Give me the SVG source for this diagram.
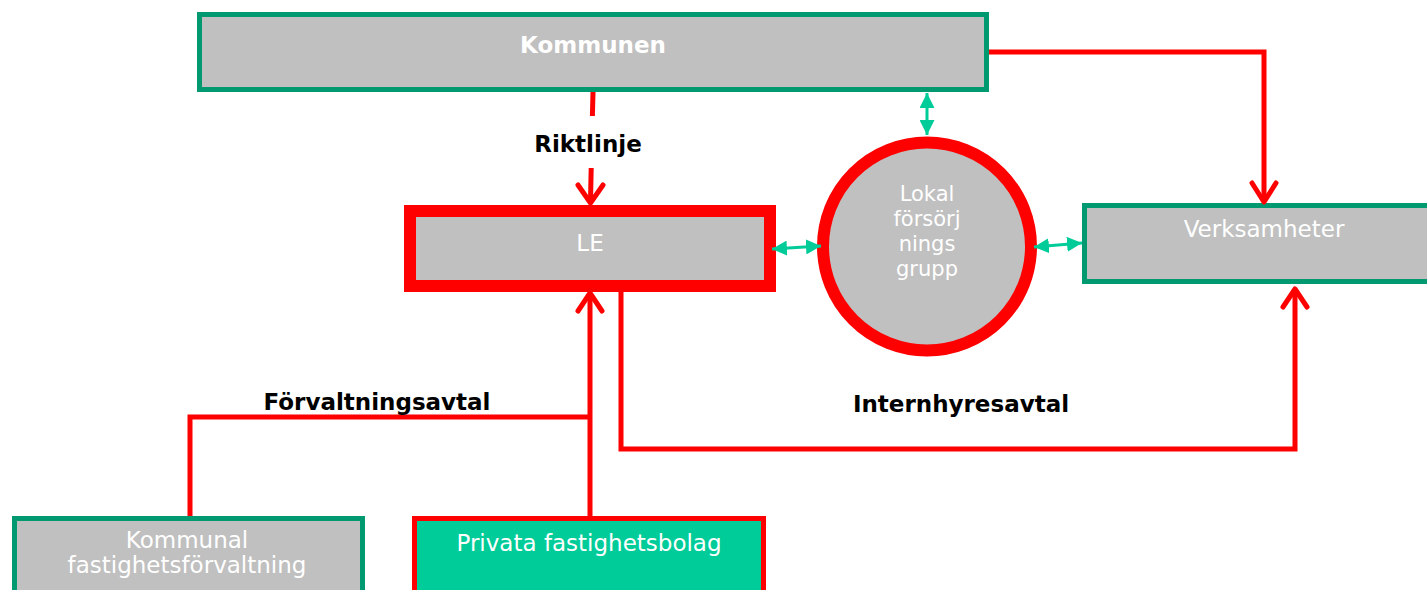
<svg xmlns="http://www.w3.org/2000/svg" width="1427" height="590" viewBox="0 0 1427 590">
<style>
.box{fill:#C0C0C0;stroke:#009970;stroke-width:5}
.wt{fill:#FFFFFF;font-family:"DejaVu Sans",Verdana,sans-serif;font-size:23px;text-anchor:middle}
.ct{fill:#FFFFFF;font-family:"DejaVu Sans",Verdana,sans-serif;font-size:21px;text-anchor:middle}
.bt{fill:#FFFFFF;font-family:"DejaVu Sans",Verdana,sans-serif;font-size:23px;font-weight:bold;text-anchor:middle}
.lbl{fill:#000000;font-family:"DejaVu Sans",Verdana,sans-serif;font-size:23px;font-weight:bold;text-anchor:middle}
.red{fill:none;stroke:#FF0000;stroke-width:5;stroke-linejoin:miter}
.head{fill:none;stroke:#FF0000;stroke-width:5;stroke-linecap:round;stroke-linejoin:round}
.grn{fill:none;stroke:#00CC99;stroke-width:3;marker-start:url(#gh);marker-end:url(#gh)}
</style>
<defs>
<marker id="gh" viewBox="0 0 10 10" refX="10" refY="5" markerWidth="15" markerHeight="15" markerUnits="userSpaceOnUse" orient="auto-start-reverse">
<path d="M0,0 L10,5 L0,10 z" fill="#00CC99"/>
</marker>
</defs>
<rect width="1427" height="590" fill="#FFFFFF"/>
<g id="kommunen">
<rect class="box" x="199.5" y="14.5" width="787" height="75"/>
<text class="bt" x="593" y="53">Kommunen</text>
</g>
<g id="le">
<rect x="410" y="211" width="360" height="75" fill="#C0C0C0" stroke="#FF0000" stroke-width="12"/>
<text class="wt" x="590" y="251">LE</text>
</g>
<g id="lokal">
<circle cx="927" cy="246.5" r="104" fill="#C0C0C0" stroke="#FF0000" stroke-width="12"/>
<text class="ct" x="927" y="201">Lokal</text>
<text class="ct" x="927" y="226">försörj</text>
<text class="ct" x="927" y="251">nings</text>
<text class="ct" x="927" y="276">grupp</text>
</g>
<g id="verksamheter">
<rect class="box" x="1084.5" y="205.5" width="400" height="76"/>
<text class="wt" x="1264" y="237">Verksamheter</text>
</g>
<g id="kommunal">
<rect class="box" x="14.5" y="518.5" width="348" height="100"/>
<text class="wt" x="187" y="548">Kommunal</text>
<text class="wt" x="187" y="573">fastighetsförvaltning</text>
</g>
<g id="privata">
<rect x="414.5" y="518.5" width="349" height="100" fill="#00CC99" stroke="#FF0000" stroke-width="5"/>
<text class="wt" x="589" y="551">Privata fastighetsbolag</text>
</g>
<g id="connectors">
<path class="red" d="M593,92 L592.4,116"/>
<path class="red" d="M591.2,168 L590.5,201"/>
<path class="head" d="M578,185 L590.5,203 L603,185"/>
<path class="red" d="M989,52 L1264,52 L1264,200"/>
<path class="head" d="M1252,183 L1264,202 L1276,183"/>
<path class="red" d="M590,516 L590,295"/>
<path class="head" d="M578,311 L590,293 L602,311"/>
<path class="red" d="M190,516 L190,417 L590,417"/>
<path class="red" d="M621,292 L621,449 L1295,449 L1295,291"/>
<path class="head" d="M1283,307 L1295,289 L1307,307"/>
<path class="grn" d="M927,93 L927,135"/>
<path class="grn" d="M772,249 L821,246"/>
<path class="grn" d="M1034,247 L1082,243"/>
<text class="lbl" x="588" y="152">Riktlinje</text>
<text class="lbl" x="377" y="410">Förvaltningsavtal</text>
<text class="lbl" x="961" y="412">Internhyresavtal</text>
</g>
</svg>
